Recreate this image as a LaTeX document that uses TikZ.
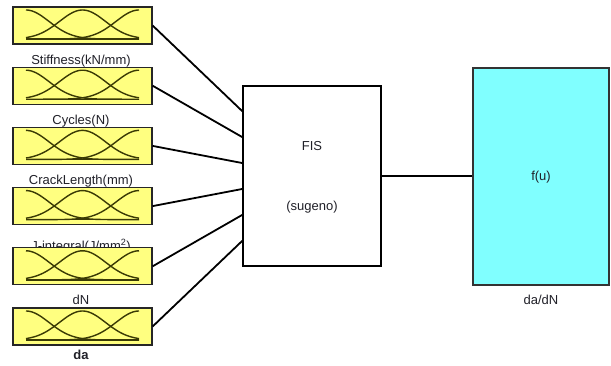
\documentclass[tikz,border=0pt]{standalone}
\usepackage{fontspec}
\setmainfont{Liberation Sans}
\usetikzlibrary{calc}
\definecolor{mfyellow}{HTML}{FFFF80}
\definecolor{mfcyan}{HTML}{80FFFF}
\definecolor{mfcurve}{HTML}{3A3A05}
\definecolor{txt}{HTML}{202028}
\begin{document}
\begin{tikzpicture}[x=1pt,y=-1pt,
  every node/.style={font=\fontsize{13}{15}\selectfont, text=txt},
  mfbox/.style={draw=black!85, line width=1.2pt, fill=mfyellow, minimum width=139pt, minimum height=37pt, inner sep=0pt},
  mfline/.style={draw=mfcurve, line width=1.4pt},
  lbl/.style={anchor=base, inner sep=0pt},
  conn/.style={line width=1.8pt, draw=black},
  sysbox/.style={draw=black, line width=1.3pt, fill=white, minimum width=138pt, minimum height=180pt, inner sep=0pt},
  outbox/.style={draw=black!80, line width=1.2pt, fill=mfcyan, minimum width=136pt, minimum height=217pt, inner sep=0pt}
]
\useasboundingbox (0,0) rectangle (611,365);
% labels (drawn before boxes so the boxes cover them where they overlap)
\node[lbl] (l1) at (81,64) {Stiffness(kN/mm)};
\node[lbl] (l2) at (81,124) {Cycles(N)};
\node[lbl] (l3) at (81,184) {CrackLength(mm)};
\node[lbl] (l4) at (81,250) {J-integral(J/mm\textsuperscript{2})};
\node[lbl] (l5) at (81,304) {dN};
\node[lbl, font=\fontsize{13}{15}\selectfont\bfseries] (l6) at (81,359) {da};
% membership-function boxes
\foreach \i in {1,...,6}{
  \pgfmathsetmacro{\cy}{25.5+60.2*(\i-1)}
  \node[mfbox] (b\i) at (82.5,\cy) {};
  \draw[mfline] (26,\cy+13.5) -- (139,\cy+13.5);
  \draw[mfline] plot[domain=26:139,samples=80] (\x,{\cy+13.5-29*exp(-0.5*((\x-26)/23)^2)});
  \draw[mfline] plot[domain=26:139,samples=80] (\x,{\cy+13.5-29*exp(-0.5*((\x-82.5)/23)^2)});
  \draw[mfline] plot[domain=26:139,samples=80] (\x,{\cy+13.5-29*exp(-0.5*((\x-139)/23)^2)});
}
% system and output boxes
\node[sysbox] (fis) at (312,176) {};
\node (fist) at (312,146) {FIS};
\node (sug) at (312,207) {(sugeno)};
\node[outbox] (out) at (541,176.5) {};
\node (fu) at (541,177) {f(u)};
\node (outl) at (541,300) {da/dN};
% connectors
\foreach \i in {1,...,6}
  \draw[conn] (b\i.east) -- ($(fis.north west)!\i/7!(fis.south west)$);
\draw[conn] (fis.east) -- (fis.east -| out.west);
\end{tikzpicture}
\end{document}
